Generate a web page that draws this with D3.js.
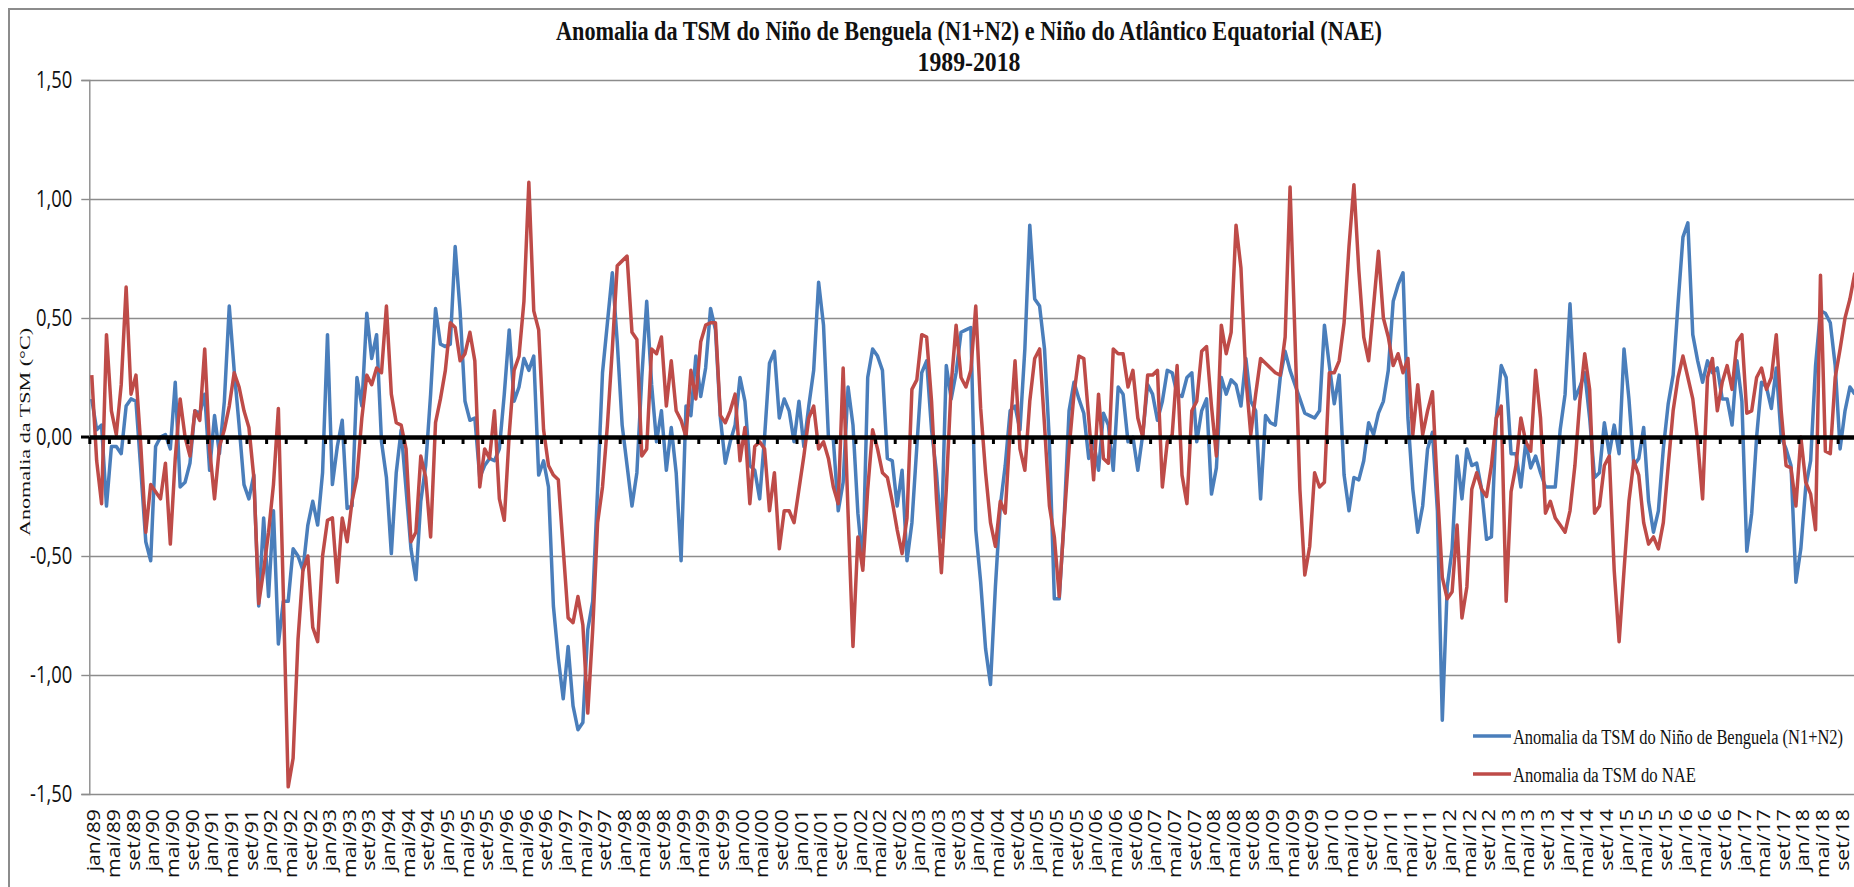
<!DOCTYPE html>
<html>
<head>
<meta charset="utf-8">
<script src="https://cdn.jsdelivr.net/npm/d3@7"></script>
<style>
body{margin:0;background:#fff;}
</style>
</head>
<body>
<script>
var meses = ["jan","fev","mar","abr","mai","jun","jul","ago","set","out","nov","dez"];
var anos = d3.range(1989, 2019);
var yTicks = [1.5, 1.0, 0.5, 0, -0.5, -1.0, -1.5];
var titulo = ["Anomalia da TSM do Niño de Benguela (N1+N2) e Niño do Atlântico Equatorial (NAE)", "1989-2018"];
var series = ["Anomalia da TSM do Niño de Benguela (N1+N2)", "Anomalia da TSM do NAE"];

// anomalia mensal N1+N2, jan/89 .. dez/18 (uma linha por ano)
var benguela = [
	0.16, 0.03, 0.05, -0.29, -0.04, -0.04, -0.07, 0.13, 0.16, 0.15, -0.14, -0.44,
	-0.52, -0.04, 0.00, 0.01, -0.05, 0.23, -0.21, -0.19, -0.11, 0.11, 0.10, 0.18,
	-0.14, 0.09, -0.07, 0.15, 0.55, 0.28, 0.05, -0.20, -0.26, -0.16, -0.71, -0.34,
	-0.67, -0.31, -0.87, -0.69, -0.69, -0.47, -0.50, -0.56, -0.37, -0.27, -0.37, -0.15,
	0.43, -0.20, -0.04, 0.07, -0.30, -0.29, 0.25, 0.13, 0.52, 0.33, 0.43, -0.02,
	-0.17, -0.49, -0.15, 0.03, -0.22, -0.47, -0.60, -0.27, -0.12, 0.18, 0.54, 0.39,
	0.38, 0.39, 0.80, 0.53, 0.15, 0.07, 0.08, -0.17, -0.12, -0.09, -0.10, -0.05,
	0.18, 0.45, 0.15, 0.21, 0.33, 0.28, 0.34, -0.16, -0.10, -0.21, -0.71, -0.93,
	-1.10, -0.88, -1.13, -1.23, -1.20, -0.81, -0.69, -0.22, 0.27, 0.48, 0.69, 0.40,
	0.05, -0.12, -0.29, -0.15, 0.25, 0.57, 0.22, -0.02, 0.11, -0.14, 0.04, -0.15,
	-0.52, 0.13, 0.09, 0.34, 0.17, 0.29, 0.54, 0.45, 0.08, -0.11, -0.02, 0.05,
	0.25, 0.15, -0.12, -0.14, -0.26, 0.00, 0.31, 0.36, 0.08, 0.16, 0.11, -0.02,
	0.15, -0.04, 0.13, 0.28, 0.65, 0.47, 0.00, -0.01, -0.31, -0.19, 0.21, 0.05,
	-0.32, -0.54, 0.25, 0.37, 0.34, 0.28, -0.09, -0.10, -0.29, -0.14, -0.52, -0.36,
	-0.04, 0.27, 0.32, 0.03, -0.15, -0.42, 0.30, 0.16, 0.27, 0.44, 0.45, 0.46,
	-0.39, -0.61, -0.89, -1.04, -0.63, -0.29, -0.12, 0.11, 0.13, 0.03, 0.37, 0.89,
	0.58, 0.55, 0.37, -0.02, -0.68, -0.68, -0.34, 0.11, 0.23, 0.16, 0.10, -0.09,
	-0.02, -0.14, 0.10, 0.05, -0.14, 0.21, 0.18, -0.02, 0.00, -0.14, 0.01, 0.22,
	0.18, 0.07, 0.15, 0.28, 0.27, 0.18, 0.17, 0.25, 0.27, -0.02, 0.11, 0.16,
	-0.24, -0.13, 0.25, 0.18, 0.24, 0.22, 0.13, 0.33, 0.15, 0.11, -0.26, 0.09,
	0.06, 0.05, 0.25, 0.36, 0.28, 0.22, 0.16, 0.10, 0.09, 0.08, 0.11, 0.47,
	0.30, 0.14, 0.26, -0.16, -0.31, -0.17, -0.18, -0.10, 0.06, 0.01, 0.10, 0.15,
	0.28, 0.57, 0.64, 0.69, 0.08, -0.22, -0.40, -0.29, -0.05, 0.02, -0.31, -1.19,
	-0.63, -0.47, -0.08, -0.26, -0.05, -0.12, -0.11, -0.22, -0.43, -0.42, 0.08, 0.30,
	0.25, -0.07, -0.07, -0.21, -0.02, -0.13, -0.08, -0.15, -0.21, -0.21, -0.21, 0.03,
	0.18, 0.56, 0.16, 0.21, 0.27, 0.08, -0.17, -0.15, 0.06, -0.07, 0.05, -0.07,
	0.37, 0.16, -0.12, -0.09, 0.04, -0.27, -0.40, -0.31, -0.05, 0.14, 0.26, 0.56,
	0.84, 0.90, 0.43, 0.32, 0.23, 0.32, 0.27, 0.29, 0.16, 0.16, 0.05, 0.32,
	0.15, -0.48, -0.32, 0.00, 0.23, 0.21, 0.12, 0.29, 0.00, -0.05, -0.12, -0.61,
	-0.47, -0.21, -0.10, 0.30, 0.53, 0.52, 0.48, 0.30, -0.05, 0.11, 0.21, 0.18
];

// anomalia mensal NAE, jan/89 .. dez/18
var nae = [
	0.26, -0.10, -0.28, 0.43, 0.11, 0.01, 0.22, 0.63, 0.18, 0.26, -0.04, -0.40,
	-0.20, -0.23, -0.26, -0.11, -0.45, -0.09, 0.16, 0.00, -0.08, 0.11, 0.07, 0.37,
	-0.05, -0.26, -0.04, 0.03, 0.13, 0.27, 0.21, 0.11, 0.04, -0.17, -0.70, -0.56,
	-0.40, -0.20, 0.12, -0.65, -1.47, -1.35, -0.85, -0.56, -0.50, -0.80, -0.86, -0.50,
	-0.35, -0.34, -0.61, -0.34, -0.44, -0.27, -0.17, 0.08, 0.26, 0.22, 0.29, 0.27,
	0.55, 0.18, 0.06, 0.05, -0.05, -0.44, -0.40, -0.08, -0.17, -0.42, 0.06, 0.16,
	0.28, 0.48, 0.46, 0.32, 0.35, 0.44, 0.32, -0.21, -0.05, -0.09, 0.11, -0.26,
	-0.35, 0.01, 0.28, 0.34, 0.57, 1.07, 0.53, 0.45, 0.03, -0.12, -0.16, -0.18,
	-0.47, -0.76, -0.78, -0.67, -0.79, -1.16, -0.81, -0.36, -0.21, 0.05, 0.37, 0.72,
	0.74, 0.76, 0.44, 0.41, -0.08, -0.05, 0.37, 0.35, 0.42, 0.13, 0.32, 0.11,
	0.07, 0.00, 0.28, 0.16, 0.40, 0.47, 0.48, 0.48, 0.09, 0.06, 0.11, 0.18,
	-0.10, 0.04, -0.28, -0.04, -0.02, -0.05, -0.31, -0.15, -0.47, -0.31, -0.31, -0.36,
	-0.22, -0.08, 0.08, 0.13, -0.05, -0.02, -0.09, -0.21, -0.28, 0.29, -0.32, -0.88,
	-0.42, -0.56, -0.22, 0.03, -0.05, -0.15, -0.17, -0.27, -0.39, -0.49, -0.34, 0.20,
	0.24, 0.43, 0.42, 0.15, -0.26, -0.57, -0.22, 0.22, 0.47, 0.25, 0.21, 0.28,
	0.55, 0.12, -0.15, -0.36, -0.46, -0.27, -0.32, 0.03, 0.32, -0.05, -0.14, 0.15,
	0.33, 0.37, 0.05, -0.29, -0.42, -0.67, -0.35, -0.05, 0.18, 0.34, 0.33, 0.08,
	-0.18, 0.18, -0.09, -0.11, 0.37, 0.35, 0.35, 0.21, 0.28, 0.08, 0.00, 0.26,
	0.26, 0.28, -0.21, -0.02, 0.01, 0.30, -0.16, -0.28, 0.11, 0.15, 0.36, 0.38,
	0.13, -0.08, 0.47, 0.35, 0.44, 0.89, 0.71, 0.25, 0.01, 0.18, 0.33, 0.31,
	0.29, 0.27, 0.26, 0.42, 1.05, 0.42, -0.22, -0.58, -0.46, -0.15, -0.21, -0.19,
	0.27, 0.27, 0.32, 0.48, 0.80, 1.06, 0.70, 0.42, 0.32, 0.55, 0.78, 0.50,
	0.42, 0.30, 0.35, 0.27, 0.33, 0.01, 0.22, 0.01, 0.11, 0.19, -0.22, -0.59,
	-0.68, -0.65, -0.37, -0.76, -0.63, -0.22, -0.15, -0.22, -0.25, -0.12, 0.08, 0.13,
	-0.69, -0.23, -0.12, 0.08, -0.02, -0.06, 0.28, 0.08, -0.32, -0.27, -0.34, -0.37,
	-0.40, -0.31, -0.12, 0.15, 0.35, 0.20, -0.32, -0.29, -0.12, -0.08, -0.56, -0.86,
	-0.56, -0.27, -0.10, -0.16, -0.36, -0.45, -0.42, -0.47, -0.36, -0.12, 0.11, 0.25,
	0.34, 0.25, 0.16, -0.02, -0.26, 0.25, 0.33, 0.11, 0.23, 0.30, 0.20, 0.40,
	0.43, 0.10, 0.11, 0.25, 0.29, 0.20, 0.25, 0.43, 0.11, -0.12, -0.13, -0.29,
	0.00, -0.19, -0.24, -0.39, 0.68, -0.06, -0.07, 0.25, 0.37, 0.50, 0.58, 0.69
];

var width = 1854,
	height = 887,
	nMeses = benguela.length;

var cores = ["#4a7ebb", "#be4b48"];
var cinza = "#8c8c8c";

// squeeze/stretch text to a width ratio, the original picture is not isotropic
function esticar(sel, k){
	sel.each(function(){
		var w = this.getComputedTextLength();
		d3.select(this).attr("textLength", w * k).attr("lengthAdjust", "spacingAndGlyphs");
	});
}

var svg = d3.select("body").append("svg")
		.attr("width", width)
		.attr("height", height)
		.style("display", "block");

svg.append("rect")
		.attr("width", width)
		.attr("height", height)
		.attr("fill", "#fff");

// moldura do grafico (cortada a direita e em baixo)
svg.append("rect")
		.attr("x", 9)
		.attr("y", 9)
		.attr("width", width + 50)
		.attr("height", height + 50)
		.attr("fill", "none")
		.attr("stroke", cinza)
		.attr("stroke-width", 2);

var x = d3.scaleLinear().domain([0, nMeses]).range([89.3, 1857.3]),
	y = d3.scaleLinear().domain([-1.5, 1.5]).range([794, 80]);

// grade horizontal
svg.append("g")
		.attr("transform", "translate(" + x(0) + ",0)")
		.call(d3.axisLeft(y)
			.tickValues(yTicks.filter(function(d){ return d !== 0; }))
			.tickSize(-(width - x(0)))
			.tickFormat(""))
		.call(function(g){
			g.select(".domain").remove();
			g.selectAll(".tick line").attr("stroke", cinza).attr("stroke-width", 1.4);
		});

// eixo y
var eixoY = svg.append("g")
		.attr("transform", "translate(" + x(0) + ",0)")
		.call(d3.axisLeft(y)
			.tickValues(yTicks)
			.tickSize(8)
			.tickPadding(9)
			.tickFormat(function(d){ return d.toFixed(2).replace(".", ","); }));
eixoY.select(".domain").attr("stroke", cinza).attr("stroke-width", 1.4);
eixoY.selectAll(".tick line").attr("stroke", cinza).attr("stroke-width", 1.4);
eixoY.selectAll(".tick text")
		.attr("fill", "#111")
		.style("font-family", "'Open Sans', sans-serif")
		.style("font-size", "23px");
esticar(eixoY.selectAll(".tick text"), 0.8);

svg.append("text")
		.attr("transform", "translate(30,432) rotate(-90)")
		.attr("text-anchor", "middle")
		.style("font-family", "'Liberation Serif', serif")
		.style("font-size", "15px")
		.attr("fill", "#111")
		.attr("textLength", 208)
		.attr("lengthAdjust", "spacingAndGlyphs")
		.text("Anomalia  da TSM  (°C)");

// linhas das series
var linha = d3.line()
		.x(function(d, i){ return x(i + 0.5); })
		.y(function(d){ return y(d); });

svg.selectAll("path.serie")
		.data([benguela, nae])
	.enter().append("path")
		.attr("class", "serie")
		.attr("d", linha)
		.attr("fill", "none")
		.attr("stroke", function(d, i){ return cores[i]; })
		.attr("stroke-width", 3.5)
		.attr("stroke-linejoin", "round");

// eixo x em zero, com marcas a cada 4 meses
var eixoX = svg.append("g")
		.attr("transform", "translate(0," + y(0) + ")")
		.call(d3.axisBottom(x)
			.tickValues(d3.range(0, nMeses + 1, 4))
			.tickSize(7)
			.tickSizeOuter(0)
			.tickFormat(""));
eixoX.select(".domain").attr("stroke", "#000").attr("stroke-width", 4.5);
eixoX.selectAll(".tick line").attr("stroke", "#000").attr("stroke-width", 3);

svg.append("line")
		.attr("x1", 81)
		.attr("x2", x(0))
		.attr("y1", y(0))
		.attr("y2", y(0))
		.attr("stroke", "#000")
		.attr("stroke-width", 3);

// rotulos do eixo x
var rotulos = d3.range(0, nMeses, 4).map(function(k){
	return {k: k, txt: meses[k % 12] + "/" + String(anos[Math.floor(k / 12)]).slice(2)};
});

svg.append("g").selectAll("text")
		.data(rotulos)
	.enter().append("text")
		.attr("transform", function(d){ return "translate(" + (x(d.k + 0.5) + 2) + ",809) rotate(-90)"; })
		.attr("text-anchor", "end")
		.attr("dy", "0.35em")
		.style("font-family", "'Open Sans', sans-serif")
		.style("font-size", "19px")
		.attr("fill", "#111")
		.text(function(d){ return d.txt; })
		.call(esticar, 1.12);

// titulo
svg.selectAll("text.titulo")
		.data(titulo)
	.enter().append("text")
		.attr("class", "titulo")
		.attr("x", 969)
		.attr("y", function(d, i){ return i ? 71 : 40; })
		.attr("text-anchor", "middle")
		.style("font-family", "'Liberation Serif', serif")
		.style("font-weight", "bold")
		.style("font-size", "28px")
		.attr("fill", "#111")
		.attr("textLength", function(d, i){ return i ? 103 : 826; })
		.attr("lengthAdjust", "spacingAndGlyphs")
		.text(function(d){ return d; });

// legenda
var leg = svg.selectAll("g.leg")
		.data(series)
	.enter().append("g")
		.attr("class", "leg")
		.attr("transform", function(d, i){ return "translate(1473," + (736 + i * 38) + ")"; });

leg.append("line")
		.attr("x1", 0)
		.attr("x2", 38)
		.attr("stroke", function(d, i){ return cores[i]; })
		.attr("stroke-width", 3.5);

leg.append("text")
		.attr("x", 40)
		.attr("y", 8)
		.style("font-family", "'Liberation Serif', serif")
		.style("font-size", "20px")
		.attr("fill", "#111")
		.attr("textLength", function(d, i){ return i ? 183 : 330; })
		.attr("lengthAdjust", "spacingAndGlyphs")
		.text(function(d){ return d; });
</script>
</body>
</html>
